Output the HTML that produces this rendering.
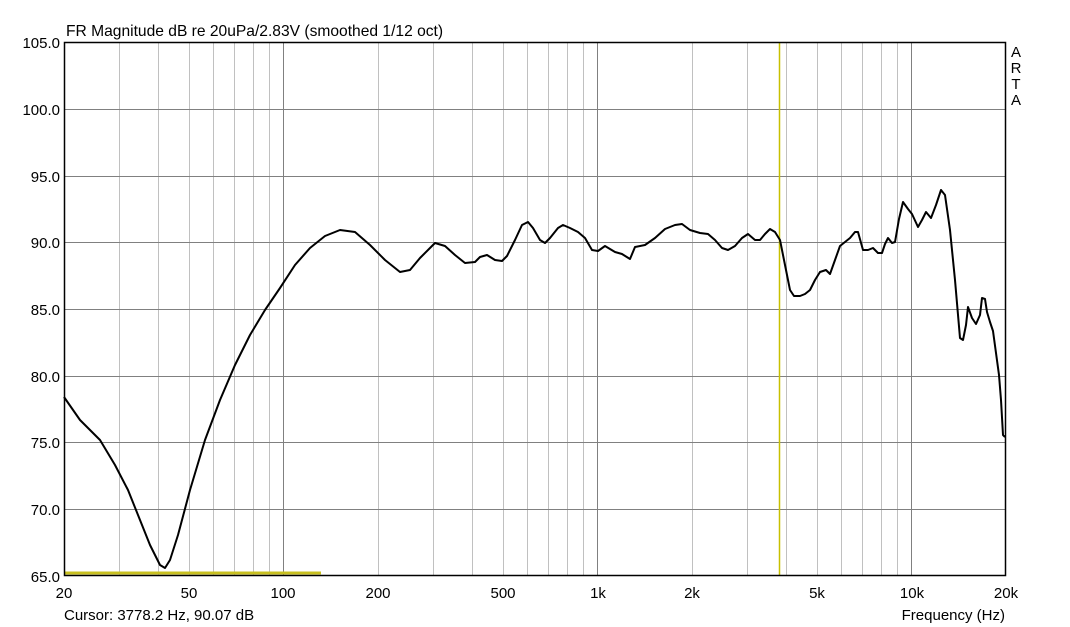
<!DOCTYPE html>
<html><head><meta charset="utf-8"><style>
html,body{margin:0;padding:0;background:#fff;width:1070px;height:627px;overflow:hidden}
svg text{font-family:"Liberation Sans",sans-serif;font-size:15px;fill:#000}
</style></head><body>
<svg width="1070" height="627" xmlns="http://www.w3.org/2000/svg">
<g stroke="#c0c0c0" stroke-width="1">
<line x1="119.5" y1="42" x2="119.5" y2="576"/><line x1="158.5" y1="42" x2="158.5" y2="576"/><line x1="189.5" y1="42" x2="189.5" y2="576"/><line x1="213.5" y1="42" x2="213.5" y2="576"/><line x1="234.5" y1="42" x2="234.5" y2="576"/><line x1="253.5" y1="42" x2="253.5" y2="576"/><line x1="269.5" y1="42" x2="269.5" y2="576"/>
<line x1="378.5" y1="42" x2="378.5" y2="576"/><line x1="433.5" y1="42" x2="433.5" y2="576"/><line x1="472.5" y1="42" x2="472.5" y2="576"/><line x1="503.5" y1="42" x2="503.5" y2="576"/><line x1="527.5" y1="42" x2="527.5" y2="576"/><line x1="548.5" y1="42" x2="548.5" y2="576"/><line x1="567.5" y1="42" x2="567.5" y2="576"/><line x1="583.5" y1="42" x2="583.5" y2="576"/>
<line x1="692.5" y1="42" x2="692.5" y2="576"/><line x1="747.5" y1="42" x2="747.5" y2="576"/><line x1="786.5" y1="42" x2="786.5" y2="576"/><line x1="817.5" y1="42" x2="817.5" y2="576"/><line x1="841.5" y1="42" x2="841.5" y2="576"/><line x1="862.5" y1="42" x2="862.5" y2="576"/><line x1="881.5" y1="42" x2="881.5" y2="576"/><line x1="897.5" y1="42" x2="897.5" y2="576"/>
</g>
<g stroke="#808080" stroke-width="1">
<line x1="283.5" y1="42" x2="283.5" y2="576"/><line x1="597.5" y1="42" x2="597.5" y2="576"/><line x1="911.5" y1="42" x2="911.5" y2="576"/>
<line x1="64" y1="109.5" x2="1006" y2="109.5"/><line x1="64" y1="176.5" x2="1006" y2="176.5"/><line x1="64" y1="242.5" x2="1006" y2="242.5"/><line x1="64" y1="309.5" x2="1006" y2="309.5"/><line x1="64" y1="376.5" x2="1006" y2="376.5"/><line x1="64" y1="442.5" x2="1006" y2="442.5"/><line x1="64" y1="509.5" x2="1006" y2="509.5"/>
</g>
<line x1="779.5" y1="42" x2="779.5" y2="576" stroke="#c8c000" stroke-width="1.5"/>
<line x1="64" y1="573" x2="321" y2="573" stroke="#c8c020" stroke-width="3"/>
<rect x="64.5" y="42.5" width="941" height="533" fill="none" stroke="#000" stroke-width="1.5"/>
<polyline fill="none" stroke="#000" stroke-width="2" stroke-linejoin="round" points="64,397 80,420 100,440 115,465 128,490 140,520 150,545 160,565 165,568 170,560 178,535 190,490 205,440 220,400 235,365 250,335 265,310 280,288 295,265 310,248 325,236 340,230 355,232 370,245 385,260 400,272 410,270 420,258 435,243 445,246 455,255 465,263 475,262 480,257 487,255 495,260 502,261 507,256 515,240 522,225 528,222 533,228 540,240 545,243 550,238 558,228 563,225 570,228 578,232 585,238 592,250 598,251 605,246 615,252 622,254 630,259 635,247 645,245 655,238 665,229 675,225 682,224 690,230 700,233 708,234 715,240 722,248 728,250 735,246 742,238 748,234 755,240 760,240 765,234 770,229 775,232 780,240 785,265 790,290 794,296 800,296 805,294 810,290 815,280 820,272 826,270 830,274 835,260 840,246 845,242 850,238 855,232 858,232 863,250 868,250 873,248 878,253 882,253 885,244 888,238 892,243 895,242 899,219 903,202 908,209 912,214 918,227 922,220 926,212 931,218 936,205 941,190 945,195 950,230 955,280 960,338 963,340 966,325 968,307 972,318 976,324 980,315 982,298 985,299 987,312 990,322 993,331 996,353 999,375 1001,400 1003,435 1005,437"/>
<text x="66" y="36" style="font-size:15.6px">FR Magnitude dB re 20uPa/2.83V (smoothed 1/12 oct)</text>
<g text-anchor="end">
<text x="60" y="48">105.0</text><text x="60" y="115">100.0</text><text x="60" y="182">95.0</text><text x="60" y="248">90.0</text><text x="60" y="315">85.0</text><text x="60" y="382">80.0</text><text x="60" y="448">75.0</text><text x="60" y="515">70.0</text><text x="60" y="582">65.0</text>
</g>
<g text-anchor="middle">
<text x="64" y="598">20</text><text x="189" y="598">50</text><text x="283" y="598">100</text><text x="378" y="598">200</text><text x="503" y="598">500</text><text x="598" y="598">1k</text><text x="692" y="598">2k</text><text x="817" y="598">5k</text><text x="912" y="598">10k</text><text x="1006" y="598">20k</text>
<g style="font-size:16px"><text x="1016" y="57">A</text><text x="1016" y="73">R</text><text x="1016" y="89">T</text><text x="1016" y="105">A</text></g>
</g>
<text x="64" y="620">Cursor: 3778.2 Hz, 90.07 dB</text>
<text x="1005" y="620" text-anchor="end">Frequency (Hz)</text>
</svg>
</body></html>
